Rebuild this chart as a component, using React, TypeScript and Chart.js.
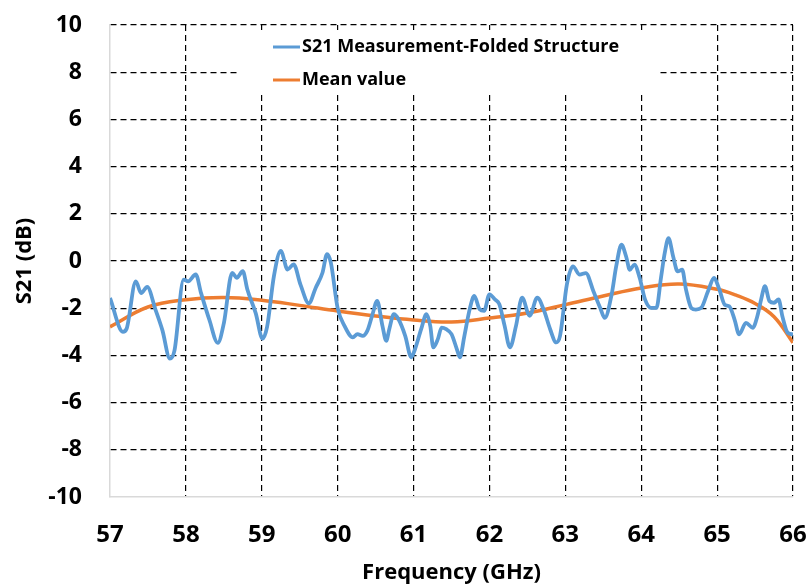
import React, { useEffect, useRef } from "react";
import { Chart, registerables } from "chart.js";

Chart.register(...registerables);

const freq = [
  57.0, 57.17, 57.22, 57.34, 57.41, 57.49, 57.6, 57.69, 57.79, 57.85, 57.97, 58.03, 58.13, 58.2, 58.31, 58.42, 58.5, 58.61, 58.67, 58.75, 58.81, 58.92,
  59.01, 59.07, 59.16, 59.25, 59.34, 59.42, 59.51, 59.62, 59.71, 59.8, 59.86, 59.91, 60.0, 60.09, 60.2, 60.26, 60.33, 60.39, 60.46, 60.52, 60.59, 60.64,
  60.68, 60.74, 60.8, 60.89, 60.97, 61.02, 61.1, 61.17, 61.22, 61.26, 61.32, 61.37, 61.43, 61.5, 61.57, 61.61, 61.67, 61.74, 61.8, 61.87, 61.93, 62.0,
  62.07, 62.13, 62.2, 62.27, 62.35, 62.43, 62.53, 62.63, 62.72, 62.8, 62.88, 62.93, 63.02, 63.1, 63.19, 63.27, 63.37, 63.46, 63.52, 63.61, 63.67, 63.74,
  63.8, 63.85, 63.91, 63.98, 64.05, 64.13, 64.2, 64.26, 64.31, 64.36, 64.42, 64.48, 64.54, 64.59, 64.66, 64.72, 64.79, 64.88, 64.96, 65.03, 65.1, 65.16,
  65.23, 65.29, 65.38, 65.47, 65.53, 65.58, 65.63, 65.69, 65.75, 65.81, 65.86, 65.93, 66.0,
];
const s21 = [
  -1.57, -3.0, -2.86, -0.86, -1.36, -1.1, -2.07, -2.93, -4.14, -3.79, -0.79, -0.86, -0.57, -1.36, -2.5, -3.47, -2.64, -0.5, -0.71, -0.43, -1.21, -2.21,
  -3.29, -2.79, -0.64, 0.43, -0.36, -0.14, -1.0, -1.79, -1.14, -0.5, 0.29, -0.07, -2.0, -2.75, -3.24, -3.1, -3.17, -2.96, -2.25, -1.69, -2.75, -3.38,
  -2.89, -2.25, -2.46, -3.17, -4.08, -3.73, -2.89, -2.25, -2.75, -3.66, -3.31, -2.82, -2.89, -3.1, -3.73, -4.08, -3.17, -2.04, -1.48, -2.04, -2.11, -1.41,
  -1.62, -1.83, -2.75, -3.66, -2.75, -1.55, -2.32, -1.55, -2.11, -2.89, -3.45, -3.17, -1.0, -0.23, -0.58, -0.51, -1.28, -1.99, -2.41, -1.42, -0.23, 0.69,
  0.2, -0.37, -0.15, -0.72, -1.63, -1.99, -1.99, -0.72, 0.34, 0.97, 0.2, -0.44, -0.37, -1.21, -1.99, -2.06, -1.99, -1.28, -0.72, -1.21, -1.85, -1.92,
  -2.48, -3.11, -2.62, -2.83, -2.34, -1.63, -1.07, -1.7, -1.77, -1.63, -2.34, -3.04, -3.11,
];

const meanFreq = [57, 57.5, 58, 58.5, 59, 59.5, 60, 60.5, 61, 61.5, 62, 62.5, 63, 63.5, 64, 64.5, 65, 65.25, 65.5, 65.75, 66];
const meanVal = [-2.79, -1.95, -1.64, -1.55, -1.66, -1.88, -2.12, -2.33, -2.5, -2.58, -2.42, -2.2, -1.85, -1.48, -1.14, -0.97, -1.2, -1.45, -1.8, -2.36, -3.46];

const seriesLabels = ["S21 Measurement-Folded Structure", "Mean value"];
const seriesColors = ["#5B9BD5", "#ED7D31"];
const xTitle = "Frequency (GHz)";
const yTitle = "S21 (dB)";

const FONT = "'Open Sans', Lato, sans-serif";

const legendPlugin = {
  id: "insideLegend",
  afterDatasetsDraw(chart: any) {
    const ctx = chart.ctx;
    ctx.save();
    ctx.fillStyle = "#ffffff";
    ctx.fillRect(240, 30, 420, 64);
    const rows = [47, 80];
    chart.data.datasets.forEach((ds: any, i: number) => {
      const y = rows[i];
      ctx.strokeStyle = ds.borderColor;
      ctx.lineWidth = 3;
      ctx.beginPath();
      ctx.moveTo(273, y);
      ctx.lineTo(300, y);
      ctx.stroke();
      ctx.fillStyle = "#000";
      ctx.font = `bold 18px ${FONT}`;
      ctx.textBaseline = "middle";
      ctx.textAlign = "left";
      ctx.fillText(ds.label, 302, y);
    });
    ctx.restore();
  },
};

export default function App() {
  const ref = useRef<HTMLCanvasElement | null>(null);
  useEffect(() => {
    document.body.style.margin = "0";
    const canvas = ref.current!;
    const chart = new Chart(canvas, {
      type: "line",
      data: {
        datasets: [
          {
            label: seriesLabels[0],
            data: freq.map((f, i) => ({ x: f, y: s21[i] })),
            borderColor: seriesColors[0],
            backgroundColor: seriesColors[0],
            borderWidth: 3.8,
            pointRadius: 0,
            cubicInterpolationMode: "monotone",
          },
          {
            label: seriesLabels[1],
            data: meanFreq.map((f, i) => ({ x: f, y: meanVal[i] })),
            borderColor: seriesColors[1],
            backgroundColor: seriesColors[1],
            borderWidth: 3.5,
            pointRadius: 0,
            tension: 0.4,
          },
        ],
      },
      plugins: [legendPlugin],
      options: {
        animation: false,
        responsive: false,
        layout: { padding: { left: 0, right: 15, top: 25, bottom: 0 } },
        plugins: { legend: { display: false }, tooltip: { enabled: false } },
        scales: {
          x: {
            type: "linear",
            min: 57,
            max: 66,
            afterFit: (s: any) => {
              s.height = 89;
              s.paddingLeft = 0;
              s.paddingRight = 0;
            },
            ticks: {
              stepSize: 1,
              padding: 24,
              color: "#000",
              font: { family: FONT, size: 24, weight: "bold" },
            },
            grid: {
              drawTicks: false,
              color: (c: any) => (c.tick && c.tick.value === 57 ? "rgba(0,0,0,0)" : "#000"),
              lineWidth: 1.2,
            },
            border: { display: true, color: "#d9d9d9", width: 1.5, dash: [6, 4] },
            title: {
              display: true,
              text: xTitle,
              color: "#000",
              padding: { top: 0, bottom: 0 },
              font: { family: FONT, size: 22, weight: "bold" },
            },
          },
          y: {
            min: -10,
            max: 10,
            afterFit: (s: any) => {
              s.width = 110;
              s.paddingTop = 0;
              s.paddingBottom = 0;
            },
            ticks: {
              stepSize: 2,
              padding: 28,
              color: "#000",
              font: { family: FONT, size: 23, weight: "bold" },
            },
            grid: {
              drawTicks: false,
              color: (c: any) => (c.tick && c.tick.value === -10 ? "rgba(0,0,0,0)" : "#000"),
              lineWidth: 1.2,
            },
            border: { display: true, color: "#d9d9d9", width: 1.5, dash: [6, 4] },
            title: {
              display: true,
              text: yTitle,
              color: "#000",
              padding: { top: 12, bottom: 0 },
              font: { family: FONT, size: 22, weight: "bold" },
            },
          },
        },
      } as any,
    });
    return () => chart.destroy();
  }, []);
  return (
    <div style={{ width: 808, height: 586 }}>
      <canvas ref={ref} width={808} height={586} style={{ width: 808, height: 586 }} />
    </div>
  );
}
